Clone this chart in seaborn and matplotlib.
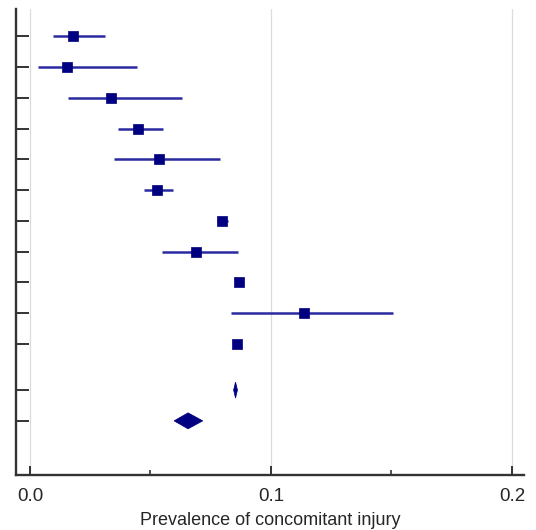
import seaborn as sns
import pandas as pd
import matplotlib.pyplot as plt
import numpy as np
from matplotlib.ticker import MultipleLocator

# study-level prevalence estimates with 95% CI
est = [0.0178, 0.0153, 0.0337, 0.0449, 0.0535, 0.0527, 0.0797, 0.0689, 0.0867, 0.1137, 0.0859]
lo = [0.0094, 0.0032, 0.0159, 0.0366, 0.0349, 0.0473, 0.0776, 0.0546, 0.0855, 0.0834, 0.0850]
hi = [0.0311, 0.0445, 0.0632, 0.0552, 0.0787, 0.0593, 0.0820, 0.0864, 0.0879, 0.1507, 0.0868]

# pooled estimates (fixed, random)
pooled_est = [0.0853, 0.0656]
pooled_lo = [0.0845, 0.0598]
pooled_hi = [0.0861, 0.0717]

xlabel = 'Prevalence of concomitant injury'

sns.set_style('white')
plt.rcParams['font.family'] = ['Liberation Sans', 'DejaVu Sans']

fig = plt.figure(figsize=(5.36, 5.30), dpi=100)
ax = fig.add_axes([16 / 536, 1 - 475.3 / 530, 508 / 536, 466.3 / 530])

rows = np.arange(1, len(est) + 1)
pooled_rows = np.array([12.5, 13.5])

df = pd.DataFrame({'est': est, 'lo': lo, 'hi': hi, 'row': rows})

for x in [0.0, 0.1, 0.2]:
    ax.axvline(x, color='#dcdcdc', lw=0.9, zorder=0)

ax.hlines(df['row'], df['lo'], df['hi'], color='#2a2aa0', lw=1.8, zorder=2)
sns.scatterplot(data=df, x='est', y='row', marker='s', s=55, color='#000080',
                edgecolor='#000080', linewidth=0.5, ax=ax, zorder=3, legend=False)

h = 0.26
for e, l, u, r in zip(pooled_est, pooled_lo, pooled_hi, pooled_rows):
    ax.fill([l, e, u, e], [r, r - h, r, r + h], color='#000080', lw=0.5, zorder=3)

ax.set_xlim(-0.0058, 0.205)
ax.set_ylim(15.27, 0.113)
ax.set_yticks(list(rows) + list(pooled_rows))
ax.set_yticklabels([])
ax.xaxis.set_minor_locator(MultipleLocator(0.05))
ax.set_xticks([0.0, 0.1, 0.2])
ax.set_xticklabels(['0.0', '0.1', '0.2'])

for s in ['top', 'right']:
    ax.spines[s].set_visible(False)
for s in ['left', 'bottom']:
    ax.spines[s].set_color('#333333')
    ax.spines[s].set_linewidth(1.7)

ax.tick_params(axis='y', direction='in', length=9.5, width=1.4, color='#333333', left=True)
ax.tick_params(axis='x', which='major', direction='in', length=6.5, width=1.4,
               color='#333333', labelsize=13.5, pad=9, bottom=True)
ax.tick_params(axis='x', which='minor', direction='in', length=3.6, width=1.2,
               color='#333333', bottom=True)
ax.set_xlabel(xlabel, fontsize=13, labelpad=5)
ax.set_ylabel('')

fig.savefig('out.png', dpi=100)
